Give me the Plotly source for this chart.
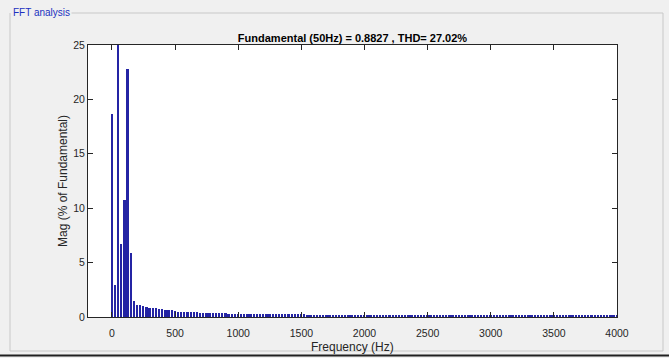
import plotly.graph_objects as go

# ---- data ----
freqs_hz = list(range(0, 4001, 25))
head_mag = [18.7, 2.9, 100.0, 6.7, 10.8, 22.8, 5.9]          # 0..150 Hz
mid_mag = [1.5, 1.1, 1.1, 1.0, 0.9, 0.85, 0.8, 0.8, 0.75, 0.7,   # 175..400
           0.65, 0.6, 0.6, 0.55, 0.5, 0.5, 0.48, 0.45, 0.45, 0.43,  # 425..650
           0.42, 0.4, 0.4, 0.38, 0.37, 0.36, 0.35, 0.34, 0.33, 0.33,  # 675..900
           0.32, 0.31, 0.3, 0.3]                                      # 925..1000
tail_mag = [0.29, 0.29, 0.28, 0.28, 0.28, 0.27, 0.27, 0.27, 0.26, 0.26,
            0.26, 0.26, 0.25, 0.25, 0.25, 0.25, 0.24, 0.24, 0.24, 0.24,
            0.24, 0.23, 0.23, 0.23, 0.23, 0.23, 0.22, 0.22, 0.22, 0.22,
            0.22, 0.22, 0.21, 0.21, 0.21, 0.21, 0.21, 0.21, 0.21, 0.2,
            0.2, 0.2, 0.2, 0.2, 0.2, 0.2, 0.2, 0.2, 0.19, 0.19,
            0.19, 0.19, 0.19, 0.19, 0.19, 0.19, 0.19, 0.19, 0.19, 0.19,
            0.18, 0.18, 0.18, 0.18, 0.18, 0.18, 0.18, 0.18, 0.18, 0.18,
            0.18, 0.18, 0.18, 0.17, 0.17, 0.17, 0.17, 0.17, 0.17, 0.17,
            0.17, 0.17, 0.17, 0.17, 0.17, 0.17, 0.17, 0.16, 0.16, 0.16,
            0.16, 0.16, 0.16, 0.16, 0.16, 0.16, 0.16, 0.16, 0.16, 0.16,
            0.16, 0.16, 0.16, 0.16, 0.15, 0.15, 0.15, 0.15, 0.15, 0.15,
            0.15, 0.15, 0.15, 0.15, 0.15, 0.15, 0.15, 0.15, 0.15, 0.15]
mag_pct = head_mag + mid_mag + tail_mag

x_ticks = [0, 500, 1000, 1500, 2000, 2500, 3000, 3500, 4000]
y_ticks = [0, 5, 10, 15, 20, 25]

title_text = "<b>Fundamental (50Hz) = 0.8827 , THD= 27.02%</b>"
x_title = "Frequency (Hz)"
y_title = "Mag (% of Fundamental)"
panel_label = "FFT analysis"

BG = "#f0f0f0"
FONT = "Liberation Sans, Arial, sans-serif"

# plot-area pixel geometry
FW, FH = 669, 358
L, R, T, B = 88, 617, 45, 317
W, H = R - L, B - T


def px_x(p):
    return (p - L) / W


def px_y(p):
    return (B - p) / H


fig = go.Figure()
fig.add_trace(go.Bar(
    x=freqs_hz, y=mag_pct, width=14,
    marker=dict(color="#2424a4", line=dict(width=0)),
))

axis_common = dict(
    showline=True, linecolor="#262626", linewidth=1, mirror="ticks",
    ticks="inside", ticklen=5, tickcolor="#262626", tickwidth=1,
    showgrid=False, zeroline=False, automargin=False,
    tickfont=dict(family=FONT, size=10.5, color="#262626"),
)

fig.update_layout(
    width=FW, height=FH,
    margin=dict(l=L, r=FW - R, t=T, b=FH - B),
    paper_bgcolor=BG, plot_bgcolor="white",
    showlegend=False, bargap=0,
    font=dict(family=FONT, color="#262626"),
    title=dict(text=title_text, x=(L + R) / 2 / FW, xref="container", xanchor="center",
               y=1 - 38 / FH, yref="container", yanchor="middle",
               font=dict(family=FONT, size=11, color="black")),
    xaxis=dict(range=[-190, 4000], tickvals=x_ticks, ticktext=[str(v) for v in x_ticks],
               ticklabelstandoff=6, **axis_common),
    yaxis=dict(range=[0, 25], tickvals=y_ticks, ticktext=[str(v) for v in y_ticks],
               title=dict(text=y_title, standoff=3,
                          font=dict(family=FONT, size=12, color="#262626")),
               **axis_common),
)

fig.add_annotation(text=x_title, xref="paper", yref="paper",
                   x=px_x((L + R) / 2), y=px_y(347), xanchor="center", yanchor="middle",
                   showarrow=False, font=dict(family=FONT, size=12, color="#262626"))

# panel (group box) border
border_col = "#c8c8c8"
shapes = [
    (60, 13, 663, 13),
    (10, 13, 10, 351),
    (663, 13, 663, 351),
    (10, 351, 663, 351),
]
for x0, y0, x1, y1 in shapes:
    fig.add_shape(type="line", xref="paper", yref="paper",
                  x0=px_x(x0), x1=px_x(x1), y0=px_y(y0), y1=px_y(y1),
                  line=dict(color=border_col, width=1))
fig.add_shape(type="line", xref="paper", yref="paper",
              x0=px_x(0), x1=px_x(669), y0=px_y(355.5), y1=px_y(355.5),
              line=dict(color="#202020", width=2))

fig.add_annotation(text=panel_label, xref="paper", yref="paper",
                   x=px_x(11), y=px_y(12), xanchor="left", yanchor="middle",
                   showarrow=False, font=dict(family=FONT, size=10, color="#2030c0"),
                   bgcolor=BG)

fig.write_html("out.html")
